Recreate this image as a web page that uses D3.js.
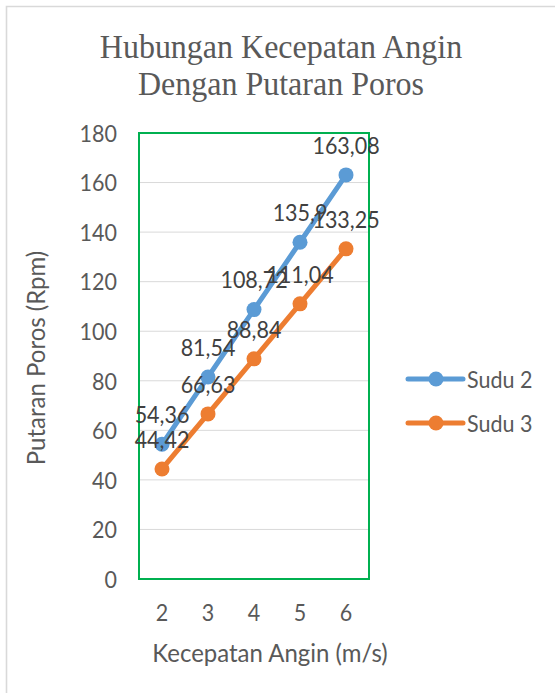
<!DOCTYPE html>
<html>
<head>
<meta charset="utf-8">
<script src="https://cdn.jsdelivr.net/npm/d3@7"></script>
<style>
html,body{margin:0;padding:0;background:#fff;}
svg{display:block;}
</style>
</head>
<body>
<svg id="chart" width="555" height="693"></svg>
<script>
const categories = [2, 3, 4, 5, 6];
const sudu2 = [54.36, 81.54, 108.72, 135.9, 163.08];
const sudu3 = [44.42, 66.63, 88.84, 111.04, 133.25];
const yTicks = [0, 20, 40, 60, 80, 100, 120, 140, 160, 180];
const seriesNames = ["Sudu 2", "Sudu 3"];
const seriesColors = ["#5B9BD5", "#ED7D31"];
const titleLines = ["Hubungan Kecepatan Angin", "Dengan Putaran Poros"];
const xTitle = "Kecepatan Angin (m/s)";
const yTitle = "Putaran Poros (Rpm)";

const SY = 1.08; // vertical stretch of text
const sans = "Lato, 'Open Sans', sans-serif";
const svg = d3.select("#chart");

const plot = {left: 139, right: 369, top: 133, bottom: 579};
const x = d3.scalePoint().domain(categories).range([plot.left, plot.right]).padding(0.5);
const y = d3.scaleLinear().domain([0, 180]).range([plot.bottom, plot.top]);

function txt(g, str, px, py, opts) {
  const t = g.append("g").attr("transform", `translate(${px},${py}) rotate(${opts.rotate||0}) scale(1,${opts.sy||SY})`)
    .append("text")
    .attr("x", 0).attr("y", 0)
    .attr("text-anchor", opts.anchor || "middle")
    .attr("dominant-baseline", "central")
    .attr("font-family", opts.family || sans)
    .attr("font-size", opts.size)
    .attr("fill", opts.fill || "#595959")
    .text(str);
  return t;
}

// outer border
svg.append("path").attr("d", "M6.5,693 L6.5,6.5 L555,6.5")
  .attr("fill", "none").attr("stroke", "#D9D9D9").attr("stroke-width", 1.6);

// title
titleLines.forEach((l, i) => txt(svg, l, 281, 47 + i * 37, {size: 32, sy: 1.05, family: "'Liberation Serif', 'Times New Roman', serif"}));

// gridlines
svg.append("g").selectAll("line").data(yTicks.filter(v => v > 0 && v < 180)).join("line")
  .attr("x1", plot.left).attr("x2", plot.right)
  .attr("y1", d => y(d)).attr("y2", d => y(d))
  .attr("stroke", "#D9D9D9").attr("stroke-width", 1);

// plot border
svg.append("rect").attr("x", plot.left).attr("y", plot.top)
  .attr("width", plot.right - plot.left).attr("height", plot.bottom - plot.top)
  .attr("fill", "none").attr("stroke", "#00B050").attr("stroke-width", 2);

// y ticks
const gy = svg.append("g");
yTicks.forEach(v => txt(gy, String(v), 117, y(v), {size: 21.5, anchor: "end"}));

// x ticks
const gx = svg.append("g");
categories.forEach(c => txt(gx, String(c), x(c), 612, {size: 21.5}));

// axis titles
txt(svg, xTitle, 270, 652, {size: 24});
txt(svg, yTitle, 35, 358, {size: 24, rotate: -90});

// series
const line = d3.line().x((d, i) => x(categories[i])).y(d => y(d));
const fmt = v => String(v).replace(".", ",");
[sudu2, sudu3].forEach((s, si) => {
  const g = svg.append("g");
  g.append("path").datum(s).attr("d", line)
    .attr("fill", "none").attr("stroke", seriesColors[si]).attr("stroke-width", 5).attr("stroke-linecap", "round");
  g.selectAll("circle").data(s).join("circle")
    .attr("cx", (d, i) => x(categories[i])).attr("cy", d => y(d)).attr("r", 7.5)
    .attr("fill", seriesColors[si]);
});
// data labels
[sudu2, sudu3].forEach((s, si) => {
  s.forEach((v, i) => txt(svg, fmt(v), x(categories[i]), y(v) - 30, {size: 21.5, fill: "#404040"}));
});

// legend
seriesNames.forEach((n, i) => {
  const ly = 379 + i * 44;
  svg.append("line").attr("x1", 408).attr("x2", 463).attr("y1", ly).attr("y2", ly)
    .attr("stroke", seriesColors[i]).attr("stroke-width", 5).attr("stroke-linecap", "round");
  svg.append("circle").attr("cx", 436).attr("cy", ly).attr("r", 7.5).attr("fill", seriesColors[i]);
  txt(svg, n, 467, ly, {size: 21.5, anchor: "start"});
});
</script>
</body>
</html>
